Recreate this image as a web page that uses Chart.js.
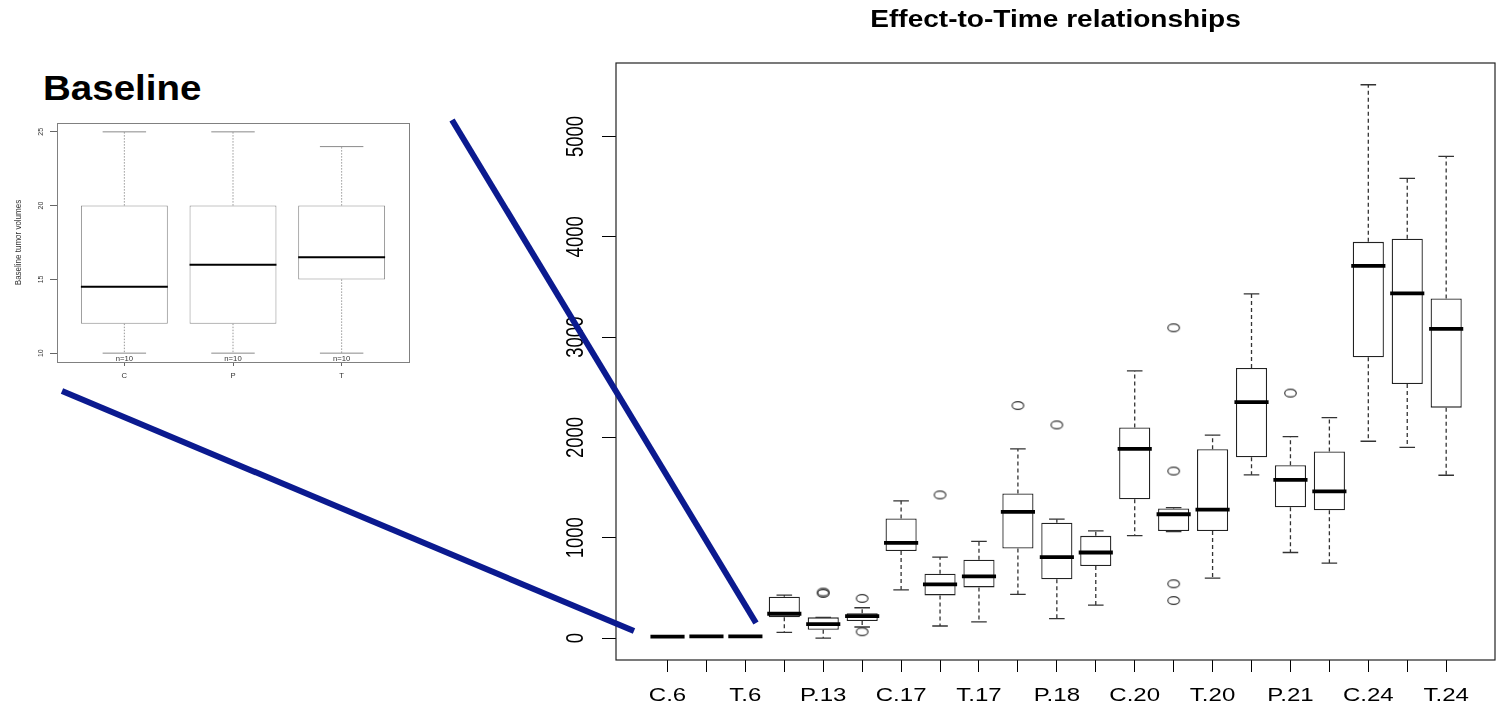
<!DOCTYPE html>
<html>
<head>
<meta charset="utf-8">
<script src="https://cdn.jsdelivr.net/npm/chart.js@4.4.1/dist/chart.umd.min.js"></script>
<style>
html, body { margin: 0; padding: 0; background: #fff; }
body { width: 1501px; height: 710px; position: relative; overflow: hidden; font-family: "Liberation Sans", Arial, sans-serif; }
#baselineLabel { position: absolute; left: 43px; top: 70px; font-size: 35px; font-weight: bold; line-height: 1; color: #000; transform: scaleX(1.1); transform-origin: left top; }
#insetWrap { position: absolute; left: 0; top: 110px; }
#mainWrap { position: absolute; left: 540px; top: 0; }
#zoomLines { position: absolute; left: 0; top: 0; pointer-events: none; }
</style>
</head>
<body>
<div id="baselineLabel">Baseline</div>
<div id="insetWrap"><canvas id="insetChart" width="420" height="280"></canvas></div>
<div id="mainWrap"><canvas id="mainChart" width="961" height="710"></canvas></div>
<svg id="zoomLines" width="1501" height="710">
  <line x1="452" y1="120" x2="756" y2="623" stroke="#0b1a8f" stroke-width="6"/>
  <line x1="62" y1="391" x2="634" y2="631" stroke="#0b1a8f" stroke-width="6"/>
</svg>

<script>
const FONT = '"Liberation Sans", Arial, sans-serif';

// baseline inset
const baseCats = ['C', 'P', 'T'];
const baseMin = [10, 10, 10];
const baseQ1 = [12, 12, 15];
const baseMed = [14.5, 16, 16.5];
const baseQ3 = [20, 20, 20];
const baseMax = [25, 25, 24];
const baseN = ['n=10', 'n=10', 'n=10'];
const baseTicks = [10, 15, 20, 25];

// effect-to-time
const timeCats = ['C.6', 'P.6', 'T.6', 'C.13', 'P.13', 'T.13', 'C.17', 'P.17', 'T.17',
    'C.18', 'P.18', 'T.18', 'C.20', 'P.20', 'T.20', 'C.21', 'P.21', 'T.21', 'C.24', 'P.24', 'T.24'];
const timeMin = [10, 10, 10, 57, 0, 110, 481, 120, 162, 435, 193, 329, 1021, 1060, 598, 1627, 853, 747, 1962, 1901, 1623];
const timeQ1 = [12, 12, 15, 206, 83, 169, 867, 425, 505, 893, 585, 717, 1383, 1067, 1067, 1802, 1303, 1273, 2800, 2533, 2297];
const timeMed = [14.5, 16, 16.5, 242, 139, 219, 949, 535, 614, 1258, 807, 853, 1886, 1234, 1280, 2351, 1577, 1463, 3710, 3436, 3082];
const timeQ3 = [20, 20, 20, 411, 206, 246, 1192, 641, 780, 1441, 1149, 1019, 2099, 1292, 1882, 2693, 1722, 1859, 3950, 3981, 3386];
const timeMax = [25, 25, 24, 428, 206, 302, 1368, 807, 963, 1885, 1185, 1069, 2663, 1300, 2023, 3432, 2008, 2198, 5516, 4583, 4803];
const outlierCats = ['P.13', 'P.13', 'T.13', 'T.13', 'P.17', 'C.18', 'P.18', 'P.20', 'P.20', 'P.20', 'P.20', 'P.21'];
const outlierVals = [445, 458, 395, 63, 1427, 2318, 2125, 3093, 1665, 541, 374, 2442];
const timeTicks = [0, 1000, 2000, 3000, 4000, 5000];

Chart.defaults.font.family = FONT;
Chart.defaults.animation = false;

// whiskers, staples and medians on top of the floating bars
function boxExtras(id, cfg) {
    return {
        id: id,
        afterDatasetsDraw(chart) {
            const ctx = chart.ctx;
            const xs = chart.scales.x, ys = chart.scales.y;
            const bars = chart.getDatasetMeta(0).data;
            ctx.save();
            bars.forEach((bar, i) => {
                const x = xs.getPixelForValue(i);
                const half = bar.width / 2;
                const yMin = ys.getPixelForValue(cfg.min[i]);
                const yQ1 = ys.getPixelForValue(cfg.q1[i]);
                const yQ3 = ys.getPixelForValue(cfg.q3[i]);
                const yMax = ys.getPixelForValue(cfg.max[i]);
                const yMed = ys.getPixelForValue(cfg.med[i]);

                ctx.strokeStyle = cfg.whiskerColor;
                ctx.lineWidth = cfg.whiskerWidth;
                ctx.setLineDash(cfg.dash);
                ctx.beginPath();
                ctx.moveTo(x, yQ3); ctx.lineTo(x, yMax);
                ctx.moveTo(x, yQ1); ctx.lineTo(x, yMin);
                ctx.stroke();
                ctx.setLineDash([]);

                ctx.strokeStyle = cfg.capColor;
                ctx.lineWidth = cfg.capWidth;
                ctx.beginPath();
                ctx.moveTo(x - half / 2, yMax); ctx.lineTo(x + half / 2, yMax);
                ctx.moveTo(x - half / 2, yMin); ctx.lineTo(x + half / 2, yMin);
                ctx.stroke();

                ctx.strokeStyle = '#000';
                ctx.lineWidth = cfg.medianWidth;
                ctx.beginPath();
                ctx.moveTo(x - half - cfg.medianExtra, yMed);
                ctx.lineTo(x + half + cfg.medianExtra, yMed);
                ctx.stroke();
            });
            ctx.restore();
        }
    };
}

// text drawn by hand so it can be stretched like the picture
function stretchedText(ctx, text, x, y, sx, sy, rot) {
    ctx.save();
    ctx.translate(x, y);
    if (rot) ctx.rotate(rot);
    ctx.scale(sx, sy);
    ctx.fillText(text, 0, 0);
    ctx.restore();
}

const mainText = {
    id: 'mainText',
    afterDraw(chart) {
        const ctx = chart.ctx;
        const area = chart.chartArea;
        const xs = chart.scales.x, ys = chart.scales.y;
        ctx.save();
        ctx.strokeStyle = '#222';
        ctx.lineWidth = 1.2;
        ctx.strokeRect(area.left, area.top, area.right - area.left, area.bottom - area.top);

        ctx.fillStyle = '#000';
        ctx.textAlign = 'center';
        ctx.textBaseline = 'middle';
        ctx.font = 'bold 23px ' + FONT;
        stretchedText(ctx, 'Effect-to-Time relationships', (area.left + area.right) / 2, 21, 1.22, 1);

        ctx.font = '18.5px ' + FONT;
        timeCats.forEach((c, i) => {
            if (i % 2 === 0) stretchedText(ctx, c, xs.getPixelForValue(i), area.bottom + 36, 1.3, 1);
        });
        timeTicks.forEach(v => {
            stretchedText(ctx, String(v), 37, ys.getPixelForValue(v), 1, 1.27, -Math.PI / 2);
        });
        ctx.restore();
    }
};

const insetText = {
    id: 'insetText',
    afterDraw(chart) {
        const ctx = chart.ctx;
        const area = chart.chartArea;
        const xs = chart.scales.x, ys = chart.scales.y;
        ctx.save();
        ctx.strokeStyle = '#808080';
        ctx.lineWidth = 1;
        ctx.strokeRect(area.left + 0.5, area.top + 0.5, area.right - area.left, area.bottom - area.top);

        ctx.fillStyle = '#333';
        ctx.textAlign = 'center';
        ctx.textBaseline = 'middle';
        ctx.font = '7px ' + FONT;
        baseCats.forEach((c, i) => {
            const x = xs.getPixelForValue(i);
            stretchedText(ctx, c, x, area.bottom + 14, 1.1, 1);
            stretchedText(ctx, baseN[i], x, area.bottom - 3, 1.1, 1);
        });
        baseTicks.forEach(v => {
            stretchedText(ctx, String(v), 41, ys.getPixelForValue(v), 1, 1.1, -Math.PI / 2);
        });
        ctx.font = '8px ' + FONT;
        stretchedText(ctx, 'Baseline tumor volumes', 19, (area.top + area.bottom) / 2, 1, 1.1, -Math.PI / 2);
        ctx.restore();
    }
};

// outlier marker: flattened open circle
const ring = document.createElement('canvas');
ring.width = 15; ring.height = 11;
const rctx = ring.getContext('2d');
rctx.strokeStyle = '#333';
rctx.lineWidth = 1.2;
rctx.beginPath();
rctx.ellipse(7.5, 5.5, 5.8, 3.8, 0, 0, Math.PI * 2);
rctx.stroke();

new Chart(document.getElementById('mainChart'), {
    type: 'bar',
    data: {
        datasets: [
            {
                type: 'bar',
                data: timeCats.map((c, i) => ({ x: i, y: [timeQ1[i], timeQ3[i]] })),
                backgroundColor: '#fff',
                borderColor: '#222',
                borderWidth: 1.3,
                borderSkipped: false,
                barPercentage: 0.8,
                categoryPercentage: 1
            },
            {
                type: 'scatter',
                data: outlierCats.map((c, k) => ({ x: timeCats.indexOf(c), y: outlierVals[k] })),
                pointStyle: ring,
                pointRadius: 5
            }
        ]
    },
    options: {
        responsive: false,
        layout: { padding: { top: 63, right: 3, left: 0, bottom: 0 } },
        plugins: { legend: { display: false }, tooltip: { enabled: false }, title: { display: false } },
        scales: {
            x: {
                type: 'linear',
                offset: false,
                min: -1.323,
                max: 21.254,
                afterBuildTicks: s => { s.ticks = timeCats.map((c, i) => ({ value: i })); },
                afterFit: s => { s.height = 50; },
                ticks: { display: false, autoSkip: false },
                border: { display: false },
                grid: { offset: false, drawOnChartArea: false, drawTicks: true, tickLength: 12, color: '#000', lineWidth: 1 }
            },
            y: {
                min: -219,
                max: 5733,
                afterBuildTicks: s => { s.ticks = timeTicks.map(v => ({ value: v })); },
                afterFit: s => { s.width = 76; },
                ticks: { display: false },
                border: { display: false },
                grid: { drawOnChartArea: false, drawTicks: true, tickLength: 14, color: '#000', lineWidth: 1 }
            }
        }
    },
    plugins: [
        boxExtras('mainBoxes', {
            min: timeMin, q1: timeQ1, med: timeMed, q3: timeQ3, max: timeMax,
            whiskerColor: '#333', whiskerWidth: 1.3, dash: [4, 3],
            capColor: '#333', capWidth: 1.3, medianWidth: 3.8, medianExtra: 1.5
        }),
        mainText
    ]
});

new Chart(document.getElementById('insetChart'), {
    type: 'bar',
    data: {
        datasets: [{
            data: baseCats.map((c, i) => ({ x: i, y: [baseQ1[i], baseQ3[i]] })),
            backgroundColor: '#fff',
            borderColor: '#8a8a8a',
            borderWidth: 1,
            borderSkipped: false,
            barPercentage: 0.8,
            categoryPercentage: 1
        }]
    },
    options: {
        responsive: false,
        layout: { padding: { top: 13, right: 11, left: 0, bottom: 0 } },
        plugins: { legend: { display: false }, tooltip: { enabled: false } },
        scales: {
            x: {
                type: 'linear',
                offset: false,
                min: -0.62,
                max: 2.62,
                afterBuildTicks: s => { s.ticks = baseCats.map((c, i) => ({ value: i })); },
                afterFit: s => { s.height = 28; },
                ticks: { display: false, autoSkip: false },
                border: { display: false },
                grid: { offset: false, drawOnChartArea: false, drawTicks: true, tickLength: 4, color: '#666', lineWidth: 1 }
            },
            y: {
                min: 9.4,
                max: 25.6,
                afterBuildTicks: s => { s.ticks = baseTicks.map(v => ({ value: v })); },
                afterFit: s => { s.width = 57; },
                ticks: { display: false },
                border: { display: false },
                grid: { drawOnChartArea: false, drawTicks: true, tickLength: 7, color: '#666', lineWidth: 1 }
            }
        }
    },
    plugins: [
        boxExtras('insetBoxes', {
            min: baseMin, q1: baseQ1, med: baseMed, q3: baseQ3, max: baseMax,
            whiskerColor: '#999', whiskerWidth: 1, dash: [1.5, 1.5],
            capColor: '#8a8a8a', capWidth: 1, medianWidth: 2, medianExtra: 0
        }),
        insetText
    ]
});
</script>
</body>
</html>
